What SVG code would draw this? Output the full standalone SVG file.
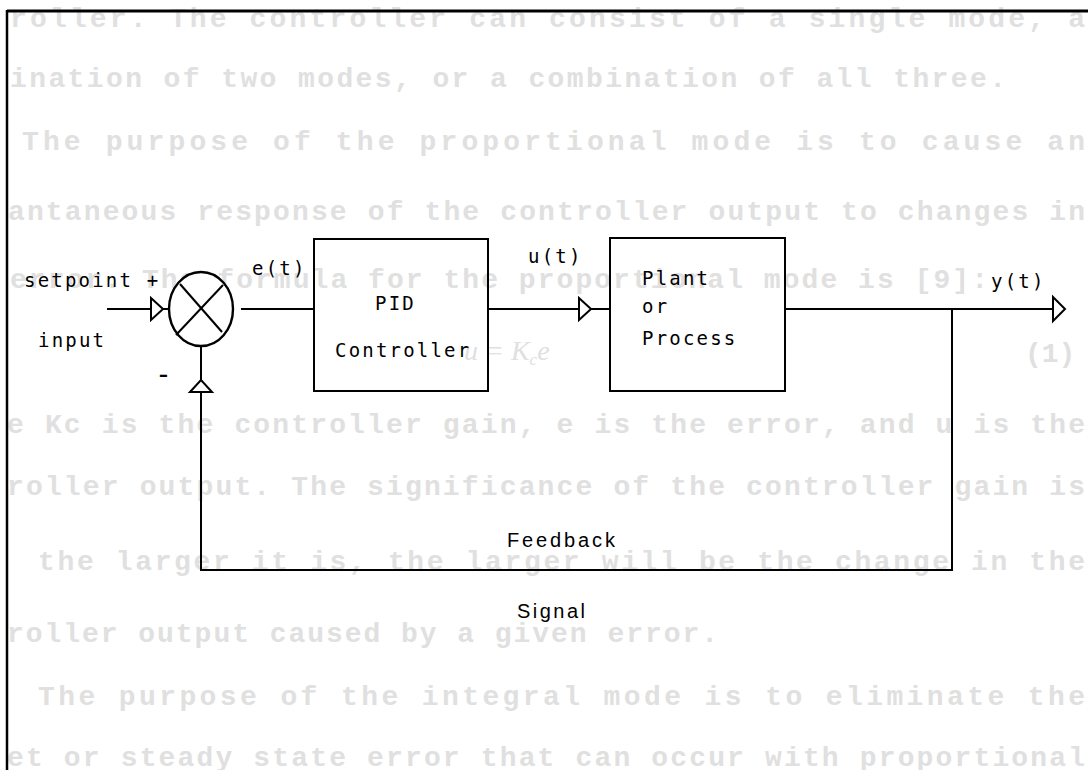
<svg xmlns="http://www.w3.org/2000/svg" width="1088" height="770" viewBox="0 0 1088 770">
<style>
.bg{font-family:"Liberation Mono",monospace;font-weight:bold;font-size:28px;fill:#e0e0e0}
.lbl{font-family:"DejaVu Sans Mono",monospace;font-size:19px;letter-spacing:2.2px;fill:#000}
.nar{font-family:"Liberation Sans",sans-serif;font-size:20px;fill:#000}
.ln{stroke:#000;stroke-width:2;fill:none}
.box{stroke:#000;stroke-width:2;fill:none}
.arr{stroke:#000;stroke-width:2;fill:#fff;stroke-linejoin:miter}
</style>
<rect width="1088" height="770" fill="#fff"/>
<g id="bleed-through">
<text class="bg" x="10" y="27" textLength="1075" lengthAdjust="spacing">roller. The controller can consist of a single mode, a</text>
<text class="bg" x="10" y="87" textLength="996" lengthAdjust="spacing">ination of two modes, or a combination of all three.</text>
<text class="bg" x="22" y="150" textLength="1063" lengthAdjust="spacing">The purpose of the proportional mode is to cause an</text>
<text class="bg" x="8" y="220" textLength="1077" lengthAdjust="spacing">antaneous response of the controller output to changes in</text>
<text class="bg" x="10" y="288" textLength="978" lengthAdjust="spacing">error. The formula for the proportional mode is [9]:</text>
<text x="464" y="360" style="font-family:'Liberation Serif',serif;font-style:italic;font-size:28px;fill:#e0e0e0">u = K<tspan font-size="17" dy="5">c</tspan><tspan dy="-5">e</tspan></text>
<text class="bg" x="1025" y="362">(1)</text>
<text class="bg" x="7" y="433" textLength="1078" lengthAdjust="spacing">e Kc is the controller gain, e is the error, and u is the</text>
<text class="bg" x="7" y="495" textLength="1078" lengthAdjust="spacing">roller output. The significance of the controller gain is</text>
<text class="bg" x="38" y="570" textLength="1047" lengthAdjust="spacing">the larger it is, the larger will be the change in the</text>
<text class="bg" x="7" y="642" textLength="711" lengthAdjust="spacing">roller output caused by a given error.</text>
<text class="bg" x="38" y="705" textLength="1047" lengthAdjust="spacing">The purpose of the integral mode is to eliminate the</text>
<text class="bg" x="7" y="766" textLength="1078" lengthAdjust="spacing">et or steady state error that can occur with proportional</text>
</g>
<g id="frame">
<line x1="7" y1="11" x2="1088" y2="11" stroke="#000" stroke-width="3"/>
<line x1="7" y1="10" x2="7" y2="770" stroke="#000" stroke-width="2.5"/>
</g>
<g id="connectors">
<line class="ln" x1="107" y1="309" x2="168" y2="309"/>
<polygon class="arr" points="151,298 163,309 151,320"/>
<line class="ln" x1="241" y1="309" x2="314" y2="309"/>
<line class="ln" x1="488" y1="309" x2="610" y2="309"/>
<polygon class="arr" points="579,298 591,309 579,320"/>
<line class="ln" x1="785" y1="309" x2="1060" y2="309"/>
<polygon class="arr" points="1053,297 1065,309 1053,321"/>
<polyline class="ln" points="952,309 952,570 201,570 201,347"/>
<polygon class="arr" points="190,392 201,380 212,392"/>
</g>
<g id="sum">
<ellipse cx="201" cy="309" rx="32" ry="37" stroke="#000" stroke-width="2.4" fill="#fff"/>
<line class="ln" x1="180" y1="284" x2="222" y2="332"/>
<line class="ln" x1="176" y1="335" x2="223" y2="285"/>
</g>
<g id="pid">
<rect class="box" x="314" y="239" width="174" height="152"/>
<text class="lbl" x="375" y="310">PID</text>
<text class="lbl" x="335" y="357">Controller</text>
</g>
<g id="plant">
<rect class="box" x="610" y="238" width="175" height="153"/>
<text class="lbl" x="642" y="285">Plant</text>
<text class="lbl" x="642" y="313">or</text>
<text class="lbl" x="642" y="345">Process</text>
</g>
<g id="labels">
<text class="lbl" x="24" y="287">setpoint +</text>
<text class="lbl" x="38" y="347">input</text>
<text x="155" y="384" style="font-family:'DejaVu Sans Mono',monospace;font-size:28px;fill:#000">-</text>
<text class="lbl" x="252" y="275">e(t)</text>
<text class="lbl" x="528" y="263">u(t)</text>
<text class="lbl" x="991" y="288">y(t)</text>
<text class="nar" x="507" y="547" textLength="108" lengthAdjust="spacing">Feedback</text>
<text class="nar" x="517" y="618" textLength="68" lengthAdjust="spacing">Signal</text>
</g>
</svg>
